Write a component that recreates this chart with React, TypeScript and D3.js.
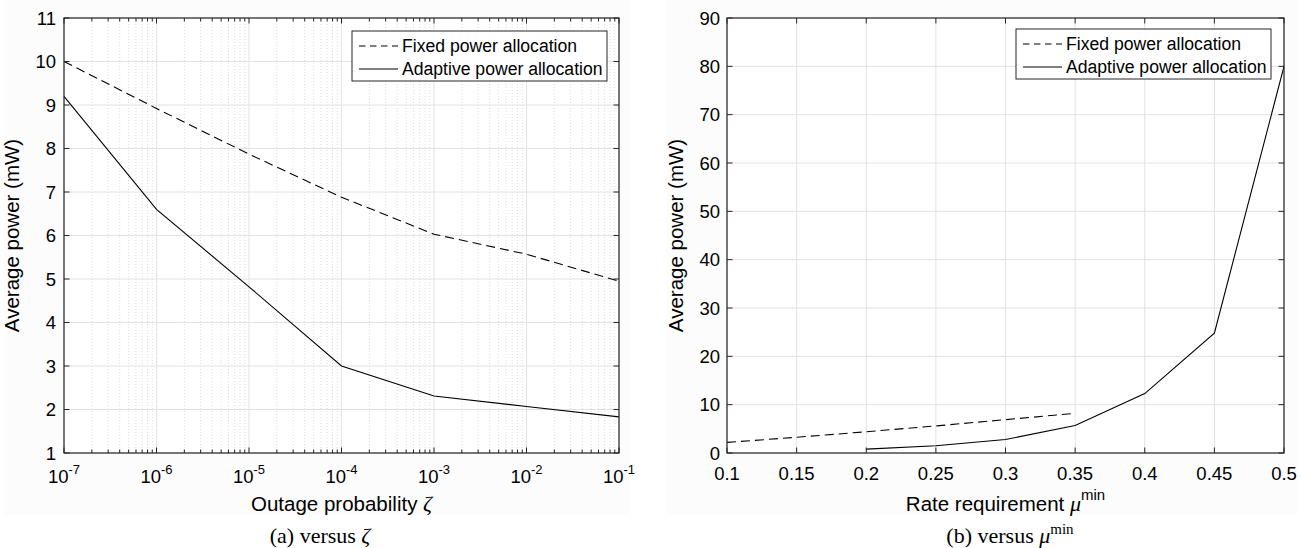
import React from 'react';
import * as d3 from 'd3';

// ---------- data ----------
const zetaValues = [1e-7, 1e-6, 1e-5, 1e-4, 1e-3, 1e-2, 1e-1];
const fixedVsZeta = [10.0, 8.92, 7.87, 6.88, 6.03, 5.57, 4.95];
const adaptiveVsZeta = [9.2, 6.6, 4.82, 3.0, 2.31, 2.07, 1.83];

const muFixed = [0.1, 0.15, 0.2, 0.25, 0.3, 0.35];
const fixedVsMu = [2.2, 3.25, 4.4, 5.6, 6.9, 8.2];
const muAdaptive = [0.2, 0.25, 0.3, 0.35, 0.4, 0.45, 0.5];
const adaptiveVsMu = [0.8, 1.5, 2.8, 5.7, 12.3, 24.8, 80];

const leftXTickExps = [-7, -6, -5, -4, -3, -2, -1];
const leftYTicks = [1, 2, 3, 4, 5, 6, 7, 8, 9, 10, 11];
const rightXTicks = [0.1, 0.15, 0.2, 0.25, 0.3, 0.35, 0.4, 0.45, 0.5];
const rightYTicks = [0, 10, 20, 30, 40, 50, 60, 70, 80, 90];

const legendLabels = ['Fixed power allocation', 'Adaptive power allocation'];
const yLabel = 'Average power (mW)';

// ---------- style ----------
const SANS = '"Liberation Sans", Arial, Helvetica, sans-serif';
const SERIF = '"Liberation Serif", "Times New Roman", serif';
const AXIS = '#262626';
const GRID = '#e2e2e2';
const MINOR = '#d4d4d4';
const DASH = '9,5';
const TICK_FS = 18.5;
const LABEL_FS = 20.5;
const CAP_FS = 22;

const TOP = 18;
const BOTTOM = 453;

function Legend({ x, y }: { x: number; y: number }) {
  const w = 255;
  const h = 50;
  return (
    <g>
      <rect x={x} y={y} width={w} height={h} fill="#fff" stroke={AXIS} strokeWidth={1} />
      {legendLabels.map((lab, i) => {
        const yy = y + 15 + i * 23;
        return (
          <g key={lab}>
            <line x1={x + 7} x2={x + 46} y1={yy} y2={yy} stroke="#000" strokeWidth={1}
              strokeDasharray={i === 0 ? '6.5,4.5' : undefined} />
            <text x={x + 50} y={yy} dy="0.36em" fontFamily={SANS} fontSize={17.6} fill="#000">{lab}</text>
          </g>
        );
      })}
    </g>
  );
}

export default function App() {
  const xL = d3.scaleLog().domain([1e-7, 1e-1]).range([64, 619]);
  const yL = d3.scaleLinear().domain([1, 11]).range([BOTTOM, TOP]);
  const xR = d3.scaleLinear().domain([0.1, 0.5]).range([727, 1284]);
  const yR = d3.scaleLinear().domain([0, 90]).range([BOTTOM, TOP]);

  const lineL = d3.line<[number, number]>().x(d => xL(d[0])).y(d => yL(d[1]));
  const lineR = d3.line<[number, number]>().x(d => xR(d[0])).y(d => yR(d[1]));

  const fixedZ = zetaValues.map((z, i) => [z, fixedVsZeta[i]] as [number, number]);
  const adaptZ = zetaValues.map((z, i) => [z, adaptiveVsZeta[i]] as [number, number]);
  const fixedM = muFixed.map((m, i) => [m, fixedVsMu[i]] as [number, number]);
  const adaptM = muAdaptive.map((m, i) => [m, adaptiveVsMu[i]] as [number, number]);

  const minorL: number[] = [];
  for (let e = -7; e < -1; e++) {
    for (let k = 2; k <= 9; k++) minorL.push(k * Math.pow(10, e));
  }

  const [lx0, lx1] = xL.range();
  const [rx0, rx1] = xR.range();

  return (
    <svg width={1302} height={548} style={{ position: 'absolute', left: 0, top: 0, background: '#fff' }}>
      <rect x={4} y={0} width={626} height={515} fill="#fcfcfc" />
      <rect x={666} y={0} width={632} height={515} fill="#fcfcfc" />

      {/* ===== LEFT PANEL ===== */}
      <rect x={lx0} y={TOP} width={lx1 - lx0} height={BOTTOM - TOP} fill="#fff" />
      {minorL.map((v, i) => (
        <line key={'mg' + i} x1={xL(v)} x2={xL(v)} y1={TOP} y2={BOTTOM} stroke={MINOR} strokeWidth={0.8} strokeDasharray="1,2" />
      ))}
      {leftXTickExps.map(e => (
        <line key={'gx' + e} x1={xL(Math.pow(10, e))} x2={xL(Math.pow(10, e))} y1={TOP} y2={BOTTOM} stroke={GRID} strokeWidth={1} />
      ))}
      {leftYTicks.map(v => (
        <line key={'gy' + v} x1={lx0} x2={lx1} y1={yL(v)} y2={yL(v)} stroke={GRID} strokeWidth={1} />
      ))}

      <path d={lineL(fixedZ) || ''} fill="none" stroke="#000" strokeWidth={1.1} strokeDasharray={DASH} />
      <path d={lineL(adaptZ) || ''} fill="none" stroke="#000" strokeWidth={1.1} />

      <rect x={lx0} y={TOP} width={lx1 - lx0} height={BOTTOM - TOP} fill="none" stroke={AXIS} strokeWidth={1.2} />
      {minorL.map((v, i) => (
        <g key={'mt' + i}>
          <line x1={xL(v)} x2={xL(v)} y1={BOTTOM} y2={BOTTOM - 3.5} stroke={AXIS} strokeWidth={1} />
          <line x1={xL(v)} x2={xL(v)} y1={TOP} y2={TOP + 3.5} stroke={AXIS} strokeWidth={1} />
        </g>
      ))}
      {leftXTickExps.map(e => {
        const x = xL(Math.pow(10, e));
        return (
          <g key={'tx' + e}>
            <line x1={x} x2={x} y1={BOTTOM} y2={BOTTOM - 5.5} stroke={AXIS} strokeWidth={1} />
            <line x1={x} x2={x} y1={TOP} y2={TOP + 5.5} stroke={AXIS} strokeWidth={1} />
            <text x={x} y={483} textAnchor="middle" fontFamily={SANS} fontSize={TICK_FS} fill="#000">
              <tspan>10</tspan>
              <tspan dy={-9} fontSize={13}>{String(e)}</tspan>
            </text>
          </g>
        );
      })}
      {leftYTicks.map(v => {
        const y = yL(v);
        return (
          <g key={'ty' + v}>
            <line x1={lx0} x2={lx0 + 5.5} y1={y} y2={y} stroke={AXIS} strokeWidth={1} />
            <line x1={lx1} x2={lx1 - 5.5} y1={y} y2={y} stroke={AXIS} strokeWidth={1} />
            <text x={lx0 - 8} y={y} dy="0.36em" textAnchor="end" fontFamily={SANS} fontSize={TICK_FS} fill="#000">{v}</text>
          </g>
        );
      })}
      <text x={(lx0 + lx1) / 2} y={511} textAnchor="middle" fontFamily={SANS} fontSize={LABEL_FS} fill="#000">
        Outage probability <tspan fontFamily={SERIF} fontStyle="italic" fontSize={22}>ζ</tspan>
      </text>
      <text transform={`translate(19,${(TOP + BOTTOM) / 2}) rotate(-90)`} textAnchor="middle" fontFamily={SANS} fontSize={LABEL_FS} fill="#000">{yLabel}</text>
      <Legend x={352} y={31} />
      <text x={320} y={543} textAnchor="middle" fontFamily={SERIF} fontSize={CAP_FS} fill="#000">
        (a) versus <tspan fontStyle="italic">ζ</tspan>
      </text>

      {/* ===== RIGHT PANEL ===== */}
      <rect x={rx0} y={TOP} width={rx1 - rx0} height={BOTTOM - TOP} fill="#fff" />
      {rightXTicks.map(v => (
        <line key={'rgx' + v} x1={xR(v)} x2={xR(v)} y1={TOP} y2={BOTTOM} stroke={GRID} strokeWidth={1} />
      ))}
      {rightYTicks.map(v => (
        <line key={'rgy' + v} x1={rx0} x2={rx1} y1={yR(v)} y2={yR(v)} stroke={GRID} strokeWidth={1} />
      ))}
      <path d={lineR(fixedM) || ''} fill="none" stroke="#000" strokeWidth={1.1} strokeDasharray={DASH} />
      <path d={lineR(adaptM) || ''} fill="none" stroke="#000" strokeWidth={1.1} />
      <rect x={rx0} y={TOP} width={rx1 - rx0} height={BOTTOM - TOP} fill="none" stroke={AXIS} strokeWidth={1.2} />
      {rightXTicks.map(v => {
        const x = xR(v);
        return (
          <g key={'rtx' + v}>
            <line x1={x} x2={x} y1={BOTTOM} y2={BOTTOM - 5.5} stroke={AXIS} strokeWidth={1} />
            <line x1={x} x2={x} y1={TOP} y2={TOP + 5.5} stroke={AXIS} strokeWidth={1} />
            <text x={x} y={480} textAnchor="middle" fontFamily={SANS} fontSize={TICK_FS} fill="#000">{String(v)}</text>
          </g>
        );
      })}
      {rightYTicks.map(v => {
        const y = yR(v);
        return (
          <g key={'rty' + v}>
            <line x1={rx0} x2={rx0 + 5.5} y1={y} y2={y} stroke={AXIS} strokeWidth={1} />
            <line x1={rx1} x2={rx1 - 5.5} y1={y} y2={y} stroke={AXIS} strokeWidth={1} />
            <text x={rx0 - 7} y={y} dy="0.36em" textAnchor="end" fontFamily={SANS} fontSize={TICK_FS} fill="#000">{v}</text>
          </g>
        );
      })}
      <text x={(rx0 + rx1) / 2} y={511} textAnchor="middle" fontFamily={SANS} fontSize={LABEL_FS} fill="#000">
        Rate requirement <tspan fontFamily={SERIF} fontStyle="italic" fontSize={22}>μ</tspan>
        <tspan dy={-11} fontSize={15}>min</tspan>
      </text>
      <text transform={`translate(683,${(TOP + BOTTOM) / 2}) rotate(-90)`} textAnchor="middle" fontFamily={SANS} fontSize={LABEL_FS} fill="#000">{yLabel}</text>
      <Legend x={1016} y={29} />
      <text x={1010} y={543} textAnchor="middle" fontFamily={SERIF} fontSize={CAP_FS} fill="#000">
        (b) versus <tspan fontStyle="italic">μ</tspan>
        <tspan dy={-9} fontSize={15}>min</tspan>
      </text>
    </svg>
  );
}
